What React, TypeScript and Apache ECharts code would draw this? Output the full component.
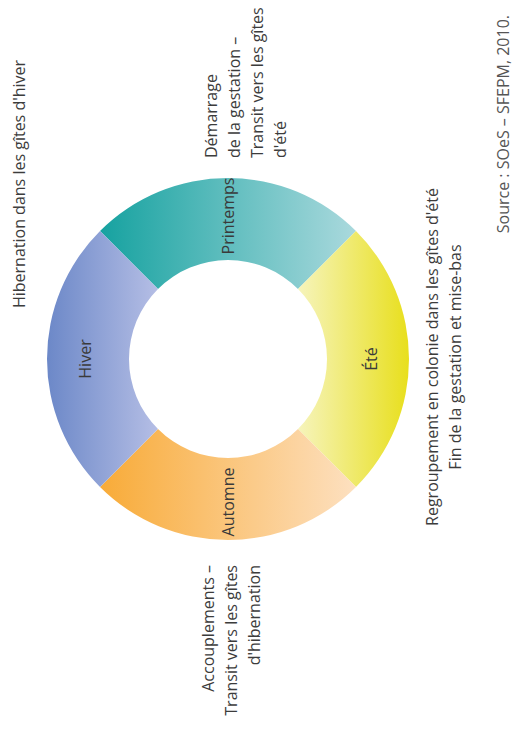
import React, { useEffect, useRef } from "react";
import * as echarts from "echarts";

const seasons = ["Printemps", "Été", "Automne", "Hiver"];
const shares = [1, 1, 1, 1];
const gradientStops = [
  ["#16a2a0", "#aad9dd"],
  ["#f6f4bc", "#e8df1c"],
  ["#f8ab38", "#fde0c0"],
  ["#6c88c8", "#b5bee5"],
];
const descHibernation = "Hibernation dans les gîtes d'hiver";
const descDemarrage = ["Démarrage", "de la gestation –", "Transit vers les gîtes", "d'été"];
const descRegroupement = ["Regroupement en colonie dans les gîtes d'été", "Fin de la gestation et mise-bas"];
const descAccouplements = ["Accouplements –", "Transit vers les gîtes", "d'hibernation"];
const sourceText = "Source : SOeS – SFEPM, 2010.";

const FONT = "'Open Sans', 'DejaVu Sans', sans-serif";

export default function App() {
  const ref = useRef<HTMLDivElement>(null);
  useEffect(() => {
    const chart = echarts.init(ref.current!, null, { renderer: "svg" });
    const ROT = Math.PI / 2;
    const txt = (x: number, y: number, text: string, align: string, fill = "#3c3c3c") => ({
      type: "text",
      x,
      y,
      rotation: ROT,
      silent: true,
      style: {
        text,
        textAlign: align,
        textVerticalAlign: "top",
        font: `16px ${FONT}`,
        fill,
        lineHeight: 23,
      },
    });
    chart.setOption({
      animation: false,
      backgroundColor: "#ffffff",
      series: [
        {
          type: "pie",
          center: [228, 359],
          radius: [99, 181],
          startAngle: 135,
          clockwise: true,
          silent: true,
          labelLine: { show: false },
          label: {
            show: true,
            position: "inside",
            rotate: 90,
            color: "#3a3a3a",
            fontFamily: FONT,
            fontSize: 16,
            formatter: "{b}",
          },
          data: seasons.map((name, i) => ({
            name,
            value: shares[i],
            itemStyle: {
              color: new echarts.graphic.LinearGradient(0, 0, 1, 0, [
                { offset: 0, color: gradientStops[i][0] },
                { offset: 1, color: gradientStops[i][1] },
              ]),
            },
          })),
        },
      ],
      graphic: [
        txt(7, 184, descHibernation, "center"),
        txt(199, 158, descDemarrage.join("\n"), "left"),
        txt(420, 357, descRegroupement.join("\n"), "center"),
        txt(196, 565, descAccouplements.join("\n"), "right"),
        txt(491, 15, sourceText, "right", "#555"),
      ],
    });
    return () => chart.dispose();
  }, []);
  return <div ref={ref} style={{ position: "fixed", left: 0, top: 0, width: 525, height: 729 }} />;
}
